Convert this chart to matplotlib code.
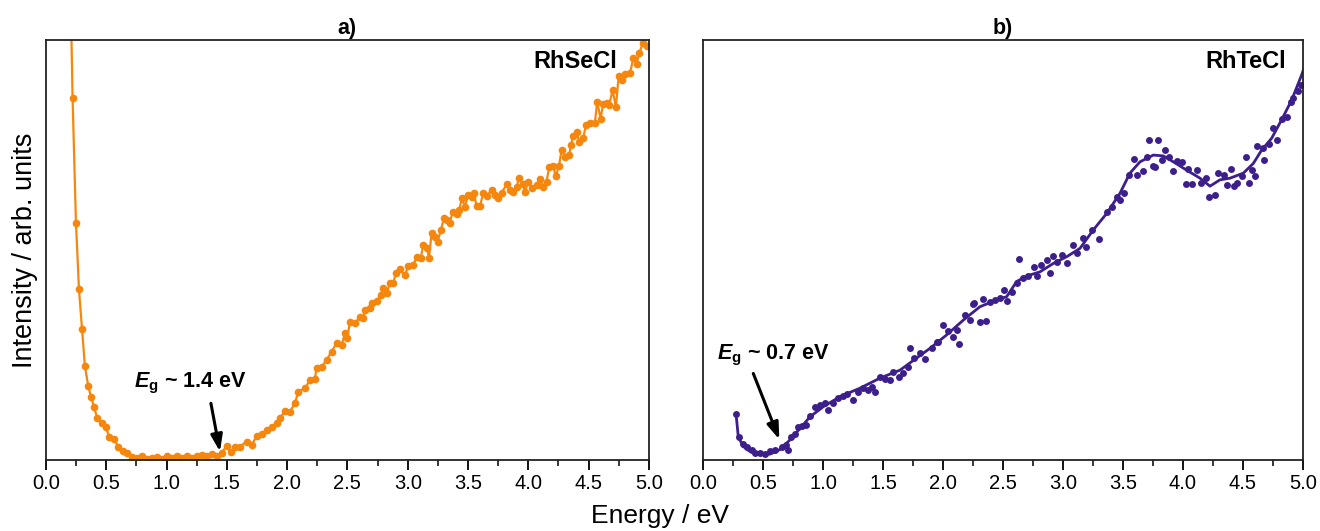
import numpy as np
import matplotlib
matplotlib.use('Agg')
import matplotlib.pyplot as plt
from matplotlib.ticker import MultipleLocator

plt.rcParams['font.family'] = ['Liberation Sans', 'DejaVu Sans']
# bold italic E and bold subscript for the band-gap labels
plt.rcParams['mathtext.fontset'] = 'custom'
plt.rcParams['mathtext.it'] = 'Liberation Sans:bold:italic'
plt.rcParams['mathtext.rm'] = 'Liberation Sans:bold'

# RhSeCl spectrum (arb. units 0-100)
se_x = [0.196, 0.221, 0.249, 0.274, 0.299, 0.323, 0.351, 0.373, 0.398, 0.426, 0.462, 0.497,
        0.525, 0.564, 0.600, 0.641, 0.674, 0.710, 0.752, 0.793, 0.835, 0.876, 0.918, 0.959,
        1.000, 1.042, 1.084, 1.125, 1.167, 1.208, 1.250, 1.291, 1.333, 1.374, 1.415, 1.457,
        1.498, 1.531, 1.567, 1.609, 1.664, 1.706, 1.747, 1.789, 1.830, 1.871, 1.913, 1.940,
        1.982, 2.023, 2.065, 2.092, 2.148, 2.189, 2.230, 2.244, 2.286, 2.327, 2.369, 2.410,
        2.452, 2.479, 2.498, 2.521, 2.562, 2.604, 2.631, 2.645, 2.687, 2.700, 2.742, 2.775,
        2.797, 2.825, 2.852, 2.880, 2.902, 2.935, 2.977, 3.004, 3.046, 3.074, 3.107, 3.129,
        3.162, 3.176, 3.198, 3.226, 3.248, 3.275, 3.300, 3.323, 3.350, 3.372, 3.405, 3.427,
        3.449, 3.474, 3.502, 3.530, 3.549, 3.571, 3.599, 3.626, 3.654, 3.696, 3.723, 3.750,
        3.778, 3.820, 3.847, 3.875, 3.903, 3.925, 3.953, 3.972, 4.000, 4.027, 4.069, 4.096,
        4.124, 4.151, 4.173, 4.207, 4.227, 4.254, 4.276, 4.303, 4.339, 4.353, 4.373, 4.400,
        4.422, 4.455, 4.478, 4.511, 4.552, 4.571, 4.599, 4.621, 4.649, 4.671, 4.699, 4.726,
        4.749, 4.774, 4.801, 4.843, 4.870, 4.898, 4.920, 4.948, 4.981]
se_y = [124.0, 86.1, 56.4, 40.6, 31.2, 22.4, 17.6, 15.1, 12.7, 9.9, 8.7, 7.9,
        5.4, 4.9, 3.2, 2.2, 1.6, 0.8, 0.4, 1.0, 0.2, 0.4, 0.6, 0.3,
        0.9, 0.4, 1.0, 0.5, 0.9, 0.5, 0.9, 1.3, 0.9, 1.5, 1.0, 1.6,
        3.4, 1.8, 3.1, 3.2, 4.4, 3.6, 5.7, 6.3, 7.1, 7.9, 8.7, 9.9,
        11.7, 11.5, 13.5, 16.3, 17.1, 19.0, 19.4, 21.8, 22.2, 23.8, 25.8, 27.8,
        27.4, 30.2, 29.0, 32.9, 32.5, 34.1, 33.7, 35.7, 36.1, 37.3, 37.9, 39.3,
        40.9, 39.7, 42.1, 42.1, 44.6, 45.4, 44.0, 46.2, 46.4, 48.4, 48.0, 51.2,
        50.4, 48.0, 54.0, 53.2, 52.0, 54.8, 57.5, 57.1, 56.5, 59.1, 58.6, 59.5,
        62.3, 60.3, 63.1, 62.7, 63.5, 60.5, 60.5, 63.5, 62.8, 64.3, 63.1, 62.3,
        63.6, 65.6, 64.4, 63.7, 65.1, 67.2, 65.7, 63.9, 66.3, 64.7, 65.5, 67.0,
        65.1, 66.3, 69.7, 70.0, 67.5, 70.0, 73.8, 72.2, 72.6, 75.0, 77.1, 78.2,
        75.8, 76.6, 79.8, 80.2, 80.3, 85.3, 81.3, 84.8, 85.1, 84.5, 88.1, 84.0,
        91.4, 90.5, 91.9, 92.1, 95.6, 94.4, 96.8, 99.2, 98.6]

# RhTeCl measured points
te_x = [0.275, 0.303, 0.331, 0.364, 0.406, 0.433, 0.475, 0.517, 0.558, 0.600, 0.656, 0.692,
        0.711, 0.731, 0.767, 0.794, 0.822, 0.858, 0.892, 0.933, 0.975, 1.017, 1.044, 1.086,
        1.128, 1.169, 1.197, 1.253, 1.294, 1.336, 1.378, 1.406, 1.433, 1.475, 1.517, 1.558,
        1.586, 1.636, 1.669, 1.711, 1.725, 1.758, 1.808, 1.850, 1.906, 1.947, 1.961, 2.003,
        2.044, 2.086, 2.114, 2.136, 2.183, 2.225, 2.253, 2.261, 2.308, 2.336, 2.358, 2.392,
        2.433, 2.475, 2.508, 2.536, 2.572, 2.614, 2.636, 2.669, 2.711, 2.758, 2.786, 2.814,
        2.864, 2.892, 2.914, 2.947, 2.989, 3.036, 3.086, 3.119, 3.164, 3.192, 3.239, 3.303,
        3.364, 3.406, 3.447, 3.475, 3.508, 3.553, 3.592, 3.619, 3.664, 3.697, 3.719, 3.747,
        3.767, 3.794, 3.822, 3.850, 3.886, 3.919, 3.947, 3.989, 4.025, 4.044, 4.072, 4.114,
        4.147, 4.192, 4.219, 4.267, 4.294, 4.342, 4.369, 4.397, 4.425, 4.453, 4.489, 4.522,
        4.550, 4.572, 4.600, 4.619, 4.664, 4.675, 4.719, 4.747, 4.781, 4.822, 4.864, 4.897,
        4.919, 4.961, 4.981]
te_y = [11.0, 5.5, 3.8, 3.2, 2.5, 1.6, 1.6, 1.4, 2.2, 2.4, 3.2, 3.6,
        2.4, 5.5, 6.3, 7.9, 8.1, 8.3, 10.5, 12.7, 13.1, 13.5, 11.9, 13.6,
        14.7, 15.2, 15.7, 14.3, 16.3, 17.1, 16.7, 17.5, 16.3, 19.7, 19.2, 19.0,
        21.0, 19.8, 20.6, 22.2, 26.6, 24.4, 25.4, 24.0, 26.6, 28.2, 28.2, 32.1,
        30.6, 29.4, 31.0, 27.5, 34.5, 33.3, 37.1, 37.3, 32.9, 38.3, 33.2, 37.7,
        38.1, 38.5, 40.5, 37.9, 40.1, 42.1, 47.9, 43.3, 43.7, 46.0, 43.8, 46.4,
        47.6, 44.6, 48.6, 47.2, 48.8, 47.0, 51.2, 49.2, 52.8, 50.6, 54.8, 52.5,
        59.1, 60.3, 62.7, 61.9, 63.5, 67.9, 71.6, 67.9, 68.7, 72.2, 76.2, 70.0,
        69.7, 76.2, 71.4, 73.7, 72.1, 68.7, 71.3, 71.0, 65.7, 69.4, 65.7, 69.0,
        66.0, 67.1, 62.5, 63.1, 68.4, 67.9, 65.5, 69.2, 65.2, 65.9, 67.6, 72.1,
        65.9, 69.0, 67.5, 74.8, 74.2, 71.4, 75.2, 79.0, 76.2, 81.3, 81.6, 85.3,
        86.3, 87.9, 89.3]

# RhTeCl smoothed curve
fit_x = [0.275, 0.294, 0.336, 0.392, 0.475, 0.558, 0.642, 0.711, 0.808, 0.892, 1.003, 1.142,
         1.308, 1.475, 1.642, 1.892, 2.031, 2.169, 2.308, 2.447, 2.531, 2.614, 2.697, 2.808,
         2.919, 3.031, 3.142, 3.253, 3.364, 3.475, 3.558, 3.642, 3.753, 3.836, 3.919, 4.031,
         4.142, 4.225, 4.308, 4.392, 4.503, 4.586, 4.656, 4.739, 4.822, 4.906, 4.989, 5.0]
fit_y = [11.0, 5.5, 3.2, 2.0, 1.2, 1.4, 2.5, 4.4, 7.5, 10.3, 12.7, 15.1,
         17.1, 19.5, 21.4, 26.6, 29.8, 33.3, 36.5, 38.1, 38.9, 42.5, 43.8, 44.8,
         46.8, 48.4, 50.4, 54.8, 58.7, 63.5, 68.3, 71.0, 72.6, 72.4, 71.0, 69.0,
         67.1, 65.2, 66.7, 67.1, 68.3, 70.6, 73.8, 76.6, 81.0, 85.7, 91.7, 92.6]

orange = '#F5870F'
purple = '#3D1F8C'

fig = plt.figure(figsize=(13.2, 5.31), dpi=100)
ax1 = fig.add_axes([0.0348, 0.1337, 0.4568, 0.791])
ax2 = fig.add_axes([0.5326, 0.1337, 0.4545, 0.791])

ax1.plot(se_x, se_y, '-o', color=orange, lw=1.6, ms=4.5)
ax2.plot(te_x, te_y, 'o', color=purple, ms=5, mec='none')
ax2.plot(fit_x, fit_y, '-', color=purple, lw=2)

for ax, title, name, nx in [(ax1, 'a)', 'RhSeCl', 0.948), (ax2, 'b)', 'RhTeCl', 0.972)]:
    ax.set_xlim(0, 5)
    ax.set_ylim(0, 100)
    ax.xaxis.set_major_locator(MultipleLocator(0.5))
    ax.xaxis.set_minor_locator(MultipleLocator(0.25))
    ax.xaxis.set_major_formatter(plt.FormatStrFormatter('%.1f'))
    ax.tick_params(axis='x', which='major', direction='out', length=7, width=1.3,
                   labelsize=14.5, pad=3)
    ax.tick_params(axis='x', which='minor', direction='out', length=4, width=1.1)
    ax.set_yticks([])
    for s in ax.spines.values():
        s.set_linewidth(1.3)
        s.set_color('#222222')
    ax.set_title(title, fontsize=15.5, fontweight='bold', pad=4)
    ax.text(nx, 0.975, name, transform=ax.transAxes, ha='right', va='top',
            fontsize=17, fontweight='bold')

ax1.set_ylabel('Intensity / arb. units', fontsize=19.5, labelpad=6)
fig.text(0.5, 0.006, 'Energy / eV', ha='center', va='bottom', fontsize=19)

arrow = dict(arrowstyle='-|>,head_length=1.0,head_width=0.35', color='black', lw=2.2,
             shrinkA=0, shrinkB=0)
ax1.annotate('', xy=(1.443, 2.0), xytext=(1.368, 13.5), arrowprops=arrow)
ax1.text(0.73, 18.3, r'$E_{\rm g}$ ~ 1.4 eV', fontsize=15.5, fontweight='bold', va='center')

ax2.annotate('', xy=(0.636, 4.9), xytext=(0.419, 20.6), arrowprops=arrow)
ax2.text(0.115, 25.0, r'$E_{\rm g}$ ~ 0.7 eV', fontsize=15.5, fontweight='bold', va='center')

fig.savefig('out.png', dpi=100)
